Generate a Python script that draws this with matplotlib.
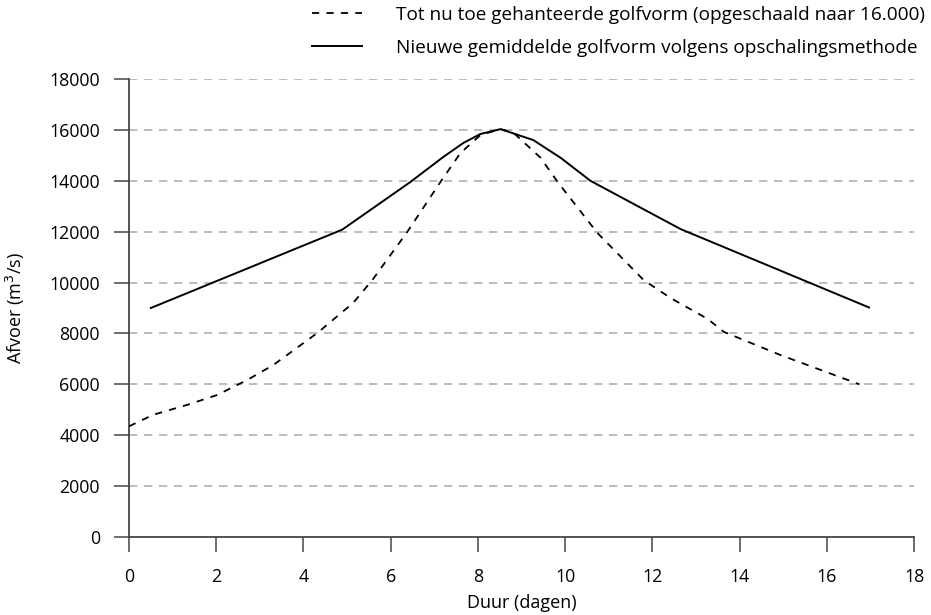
import matplotlib
matplotlib.use("Agg")
import matplotlib.pyplot as plt

plt.rcParams["font.family"] = ["Open Sans", "Noto Sans", "DejaVu Sans"]

# tot nu toe gehanteerde golfvorm (gestippeld)
oud_x = [0.0, 0.55, 1.33, 2.02, 2.71, 3.31, 4.32, 5.14, 5.58, 6.38, 7.14, 7.6, 8.06, 8.52,
         8.82, 9.44, 9.83, 10.74, 11.8, 12.42, 13.27, 13.64, 14.94, 16.75]
oud_y = [4350, 4800, 5190, 5580, 6170, 6760, 8020, 9200, 10100, 11990, 13950, 15090, 15800, 16030,
         15880, 14900, 13950, 11950, 10100, 9390, 8570, 8060, 7150, 6000]

# nieuwe gemiddelde golfvorm (doorgetrokken)
nieuw_x = [0.5, 4.89, 6.45, 7.21, 7.67, 8.06, 8.52, 9.27, 9.9, 10.58, 12.65, 16.97]
nieuw_y = [9000, 12080, 13950, 14940, 15490, 15840, 16030, 15600, 14900, 14000, 12100, 9020]

xticks = list(range(0, 19, 2))
yticks = list(range(0, 18001, 2000))
labels = ["Tot nu toe gehanteerde golfvorm (opgeschaald naar 16.000)",
          "Nieuwe gemiddelde golfvorm volgens opschalingsmethode"]

fig = plt.figure(figsize=(9.31, 6.15), dpi=100)
r = fig.canvas.get_renderer()


def fit_size(text, width_px):
    # font size so that the text is about width_px wide
    t = fig.text(0.5, 0.5, text, fontsize=10)
    w = t.get_window_extent(renderer=r).width
    t.remove()
    return 10 * width_px / w


fs_leg = fit_size(labels[1], 521)
fs_tick = fit_size("18000", 51)
fs_lab = fit_size("Duur (dagen)", 110)

ax = fig.add_axes([129/931, 78/615, 785/931, 458/615])

for y in yticks[1:]:
    ax.axhline(y, color="#b0b0b0", lw=1.2, ls=(0, (5, 4)), zorder=1)

l1, = ax.plot(oud_x, oud_y, color="black", lw=1.3, ls=(0, (4, 4)), zorder=3)
l2, = ax.plot(nieuw_x, nieuw_y, color="black", lw=1.4, zorder=3)

ax.set_xlim(0, 18)
ax.set_ylim(0, 18000)
ax.set_xticks(xticks)
ax.set_yticks(yticks)
ax.spines["top"].set_visible(False)
ax.spines["right"].set_visible(False)
for s in ("left", "bottom"):
    ax.spines[s].set_color("#444444")
    ax.spines[s].set_linewidth(1.3)
ax.tick_params(axis="both", direction="out", length=11, width=1.1, color="#444444",
               labelsize=fs_tick)
ax.tick_params(axis="x", pad=11)
ax.tick_params(axis="y", pad=10)

ax.set_xlabel("Duur (dagen)", fontsize=fs_lab, labelpad=6)
ax.set_ylabel("Afvoer (m$^3$/s)", fontsize=fs_lab, labelpad=16)

fs_px = fs_leg * 100 / 72
fig.legend([l1, l2], labels,
           loc="upper left", bbox_to_anchor=(312/931, 1 - 6/615), frameon=False,
           borderpad=0, borderaxespad=0, fontsize=fs_leg,
           handlelength=50/fs_px, handletextpad=34/fs_px, labelspacing=0.78)

fig.savefig("out.png", dpi=100)
